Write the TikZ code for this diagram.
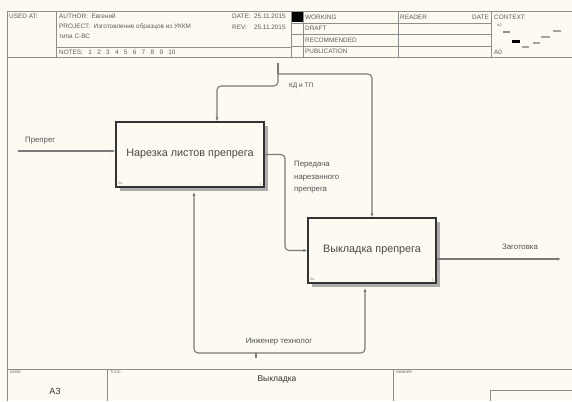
\documentclass[tikz,border=0pt]{standalone}
\usepackage{fontspec}
\setmainfont{Liberation Sans}
\usetikzlibrary{arrows.meta,calc,shadows}
\definecolor{paper}{HTML}{FDFAF1}
\definecolor{frame}{HTML}{8E8E8E}
\definecolor{wire}{HTML}{7A7A7A}
\definecolor{ink}{HTML}{333333}
\begin{document}
\begin{tikzpicture}[x=1pt,y=-1pt,
  grid/.style={draw=frame, line width=0.8pt},
  hdr/.style={font=\fontsize{6.4}{7}\selectfont, text=ink!80, anchor=west, inner sep=0pt},
  tiny/.style={font=\fontsize{3.6}{4}\selectfont, text=ink!80, anchor=north west, inner sep=0pt},
  func/.style={draw=ink, line width=1.5pt, fill=paper, minimum height=65pt,
    font=\fontsize{10.8}{12}\selectfont, text=ink!90, inner sep=0pt,
    drop shadow={shadow xshift=3.5pt, shadow yshift=-3.5pt, fill=black!32, opacity=1}},
  conn/.style={draw=wire, line width=1.1pt, rounded corners=4pt},
  arr/.style={conn, -{Latex[length=3.8pt,width=3.2pt]}},
  lbl/.style={font=\fontsize{7.8}{12.5}\selectfont, text=ink!85, inner sep=0pt, align=left},
  tag/.style={font=\fontsize{3.5}{4}\selectfont, text=ink!60, inner sep=0pt}]

% sheet
\fill[paper] (0,0) rectangle (572,401);
\useasboundingbox (0,0) rectangle (572,401);

% ---------- header block ----------
\draw[grid] (7,11.5) -- (572,11.5);
\draw[grid] (7,57) -- (572,57);
\draw[grid] (7,11.5) -- (7,401);
\draw[grid] (56,11.5) -- (56,57);
\draw[grid] (56,47) -- (291,47);
\draw[grid] (291,11.5) -- (291,57);
\draw[grid] (303,11.5) -- (303,57);
\draw[grid] (398,11.5) -- (398,57);
\draw[grid] (491,11.5) -- (491,57);
\foreach \yy in {23,34.5,46} \draw[grid] (291,\yy) -- (491,\yy);
\fill[black] (292,12) rectangle (302.5,22.5);

\node[hdr] (usedat) at (9,16.5) {USED AT:};
\node[hdr] (author) at (59,16.5) {AUTHOR:\ \ Евгений};
\node[hdr] (project) at (59,27) {PROJECT:\ \ Изготовление образцов из УККМ};
\node[hdr] (project2) at (59,36.5) {типа С-ВС};
\node[hdr] (notes) at (59,52.5) {NOTES:\ \ \ 1\ \ \ 2\ \ \ 3\ \ \ 4\ \ \ 5\ \ \ 6\ \ \ 7\ \ \ 8\ \ \ 9\ \ \ 10};
\node[hdr] (date) at (232,16.5) {DATE:\ \ 25.11.2015};
\node[hdr] (rev) at (232,27) {REV:\ \ \ \ 25.11.2015};
\node[hdr] (working) at (305,17.2) {WORKING};
\node[hdr] (draft) at (305,28.7) {DRAFT};
\node[hdr] (recom) at (305,40.2) {RECOMMENDED};
\node[hdr] (publ) at (305,51.5) {PUBLICATION};
\node[hdr] (reader) at (400,17.2) {READER};
\node[hdr, anchor=east] (rdate) at (489,17.2) {DATE};
\node[hdr] (context) at (494,17.2) {CONTEXT:};
\node[hdr] (ctxnode) at (494,52) {A0};

% context miniature
\node[tiny] (c0) at (497,24) {A0};
\fill[ink!55] (503,31) rectangle (510,33.5);
\fill[black] (512,40) rectangle (520,43.5);
\fill[ink!45] (522,46) rectangle (529,48);
\fill[ink!45] (533,42) rectangle (540,44);
\fill[ink!45] (541,36.5) rectangle (550,38.5);
\fill[ink!45] (553,30.5) rectangle (561,32.5);

% ---------- footer block ----------
\draw[grid] (7,369) -- (572,369);
\draw[grid] (107,369) -- (107,401);
\draw[grid] (393,369) -- (393,401);
\draw[grid] (490,401) -- (490,390) -- (572,390);
\node[tiny] (nodelbl) at (10,371) {NODE:};
\node[tiny] (titlelbl) at (110,371) {TITLE:};
\node[tiny] (numlbl) at (396,371) {NUMBER:};
\node[font=\fontsize{9}{10}\selectfont, text=ink, inner sep=0pt] (nodeno) at (55,391) {A3};
\node[font=\fontsize{8.5}{10}\selectfont, text=ink, inner sep=0pt] (title) at (277,379) {Выкладка};

% ---------- functions ----------
\node[func, minimum width=148pt] (b1) at (190,154.5) {\raisebox{3pt}{Нарезка листов препрега}};
\node[func, minimum width=128pt] (b2) at (372,250.5) {\raisebox{3pt}{Выкладка препрега}};
\node[tag, anchor=south west] at ($(b1.south west)+(3,-2)$) {0р.};
\node[tag, anchor=south east] at ($(b1.south east)+(-3,-2)$) {1};
\node[tag, anchor=south west] at ($(b2.south west)+(3,-2)$) {0р.};
\node[tag, anchor=south east] at ($(b2.south east)+(-3,-2)$) {2};

% ---------- connectors ----------
% input
\coordinate (inL) at (18,151);
\draw[arr] (inL) -- (inL -| b1.west);
\node[lbl, anchor=south west] (lin) at (25,144) {Препрег};

% control, split into two branches
\coordinate (ctl) at (278,63);
\coordinate (split) at (278,74);
\coordinate (c1) at (217,0);
\coordinate (c2) at (372,0);
\draw[conn] (ctl) -- (split);
\draw[arr] (split) -- (278,86) -| (c1 |- b1.north);
\draw[arr] (split) -- (283,74) -| (c2 |- b2.north);
\node[lbl, font=\fontsize{6.5}{8}\selectfont, anchor=west] (lctl) at (289,86) {КД и ТП};

% output of the first function feeding the second
\coordinate (o1) at (285,0);
\draw[arr] (b1.east) -| (o1 |- b2.west) -- (b2.west);
\node[lbl, anchor=north west] (lmid) at (294,161) {Передача\\нарезанного\\препрега};

% final output
\coordinate (outR) at (561,259);
\draw[arr] (outR -| b2.east) -- (outR);
\node[lbl, anchor=south] (lout) at (520,250) {Заготовка};

% mechanism, shared by both functions
\coordinate (mech) at (256,358);
\coordinate (m1) at (194,192);
\coordinate (m2) at (365,288);
\draw[conn] (mech) -- (256,353);
\draw[arr] (256,353) -| (m1);
\draw[arr] (256,353) -| (m2);
\node[lbl, anchor=center] (lmech) at (279,342) {Инженер технолог};

\end{tikzpicture}
\end{document}
